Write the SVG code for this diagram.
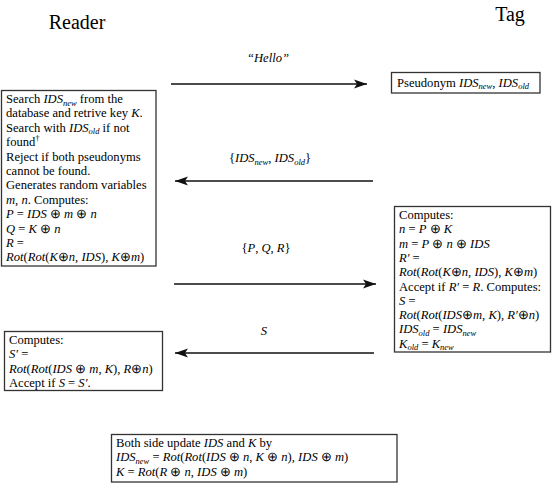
<svg xmlns="http://www.w3.org/2000/svg" width="553" height="487" viewBox="0 0 553 487" font-family="Liberation Serif" font-size="12.6">
<style>
.h{font-size:20px}
.i{font-style:italic}
.s{font-size:8.5px;font-style:italic}
.box{fill:#fff;stroke:#333;stroke-width:1.3}
.arr{stroke:#111;stroke-width:1.6;fill:none;marker-end:url(#ah)}
</style>
<defs>
<marker id="ah" markerWidth="14" markerHeight="10" refX="13" refY="5" orient="auto" markerUnits="userSpaceOnUse">
<path d="M0,0.5 L13,5 L0,9.5 L3,5 Z" fill="#111"/>
</marker>
</defs>
<rect width="553" height="487" fill="#fff"/>
<g id="reader-title"><text font-family="Liberation Serif" class="h" x="77" y="29" text-anchor="middle">Reader</text></g>
<g id="tag-title"><text font-family="Liberation Serif" class="h" x="510" y="21" text-anchor="middle">Tag</text></g>

<g id="connectors">
<line class="arr" x1="171" y1="84" x2="367" y2="84"/>
<line class="arr" x1="373" y1="181" x2="175" y2="181"/>
<line class="arr" x1="174" y1="284" x2="376" y2="284"/>
<line class="arr" x1="374" y1="353" x2="175" y2="353"/>
<text font-family="Liberation Serif" x="268" y="62" text-anchor="middle" class="i">“Hello”</text>
<text font-family="Liberation Serif" x="270" y="162" text-anchor="middle">{<tspan class="i">IDS</tspan><tspan class="s" dy="2.5">new</tspan><tspan dy="-2.5">, </tspan><tspan class="i">IDS</tspan><tspan class="s" dy="2.5">old</tspan><tspan dy="-2.5">}</tspan></text>
<text font-family="Liberation Serif" x="266" y="252" text-anchor="middle">{<tspan class="i">P</tspan>, <tspan class="i">Q</tspan>, <tspan class="i">R</tspan>}</text>
<text font-family="Liberation Serif" x="264" y="335" text-anchor="middle" class="i">S</text>
</g>

<g id="tag-pseudonym">
<rect class="box" x="391.5" y="72.5" width="148.5" height="20.5"/>
<text font-family="Liberation Serif" x="397" y="86.5">Pseudonym <tspan class="i">IDS</tspan><tspan class="s" dy="2.5">new</tspan><tspan dy="-2.5">, </tspan><tspan class="i">IDS</tspan><tspan class="s" dy="2.5">old</tspan></text>
</g>

<g id="reader-search">
<rect class="box" x="1.5" y="90.5" width="154.5" height="175.5"/>
<text font-family="Liberation Serif" x="6" y="103">Search <tspan class="i">IDS</tspan><tspan class="s" dy="2.5">new</tspan><tspan dy="-2.5"> from the</tspan></text>
<text font-family="Liberation Serif" x="6" y="117.4">database and retrive key <tspan class="i">K</tspan>.</text>
<text font-family="Liberation Serif" x="6" y="131.8">Search with <tspan class="i">IDS</tspan><tspan class="s" dy="2.5">old</tspan><tspan dy="-2.5"> if not</tspan></text>
<text font-family="Liberation Serif" x="6" y="146.2">found<tspan font-size="8" dy="-5">†</tspan></text>
<text font-family="Liberation Serif" x="6" y="160.6">Reject if both pseudonyms</text>
<text font-family="Liberation Serif" x="6" y="175">cannot be found.</text>
<text font-family="Liberation Serif" x="6" y="189.4">Generates random variables</text>
<text font-family="Liberation Serif" x="6" y="203.8"><tspan class="i">m</tspan>, <tspan class="i">n</tspan>. Computes:</text>
<text font-family="Liberation Serif" x="6" y="218.2"><tspan class="i">P</tspan> = <tspan class="i">IDS</tspan> ⊕ <tspan class="i">m</tspan> ⊕ <tspan class="i">n</tspan></text>
<text font-family="Liberation Serif" x="6" y="232.6"><tspan class="i">Q</tspan> = <tspan class="i">K</tspan> ⊕ <tspan class="i">n</tspan></text>
<text font-family="Liberation Serif" x="6" y="247"><tspan class="i">R</tspan> =</text>
<text font-family="Liberation Serif" x="6" y="261.4"><tspan class="i">Rot</tspan>(<tspan class="i">Rot</tspan>(<tspan class="i">K</tspan>⊕<tspan class="i">n</tspan>, <tspan class="i">IDS</tspan>), <tspan class="i">K</tspan>⊕<tspan class="i">m</tspan>)</text>
</g>

<g id="tag-compute">
<rect class="box" x="394.5" y="206.5" width="156" height="145.5"/>
<text font-family="Liberation Serif" x="399" y="219">Computes:</text>
<text font-family="Liberation Serif" x="399" y="233.3"><tspan class="i">n</tspan> = <tspan class="i">P</tspan> ⊕ <tspan class="i">K</tspan></text>
<text font-family="Liberation Serif" x="399" y="247.6"><tspan class="i">m</tspan> = <tspan class="i">P</tspan> ⊕ <tspan class="i">n</tspan> ⊕ <tspan class="i">IDS</tspan></text>
<text font-family="Liberation Serif" x="399" y="261.9"><tspan class="i">R′</tspan> =</text>
<text font-family="Liberation Serif" x="399" y="276.2"><tspan class="i">Rot</tspan>(<tspan class="i">Rot</tspan>(<tspan class="i">K</tspan>⊕<tspan class="i">n</tspan>, <tspan class="i">IDS</tspan>), <tspan class="i">K</tspan>⊕<tspan class="i">m</tspan>)</text>
<text font-family="Liberation Serif" x="399" y="290.5">Accept if <tspan class="i">R′</tspan> = <tspan class="i">R</tspan>. Computes:</text>
<text font-family="Liberation Serif" x="399" y="304.8"><tspan class="i">S</tspan> =</text>
<text font-family="Liberation Serif" x="399" y="319.1"><tspan class="i">Rot</tspan>(<tspan class="i">Rot</tspan>(<tspan class="i">IDS</tspan>⊕<tspan class="i">m</tspan>, <tspan class="i">K</tspan>), <tspan class="i">R′</tspan>⊕<tspan class="i">n</tspan>)</text>
<text font-family="Liberation Serif" x="399" y="333.4"><tspan class="i">IDS</tspan><tspan class="s" dy="2.5">old</tspan><tspan dy="-2.5"> = </tspan><tspan class="i">IDS</tspan><tspan class="s" dy="2.5">new</tspan></text>
<text font-family="Liberation Serif" x="399" y="347.7"><tspan class="i">K</tspan><tspan class="s" dy="2.5">old</tspan><tspan dy="-2.5"> = </tspan><tspan class="i">K</tspan><tspan class="s" dy="2.5">new</tspan></text>
</g>

<g id="reader-verify">
<rect class="box" x="4.5" y="331.5" width="158" height="59"/>
<text font-family="Liberation Serif" x="9" y="344">Computes:</text>
<text font-family="Liberation Serif" x="9" y="358.4"><tspan class="i">S′</tspan> =</text>
<text font-family="Liberation Serif" x="9" y="372.8"><tspan class="i">Rot</tspan>(<tspan class="i">Rot</tspan>(<tspan class="i">IDS</tspan> ⊕ <tspan class="i">m</tspan>, <tspan class="i">K</tspan>), <tspan class="i">R</tspan>⊕<tspan class="i">n</tspan>)</text>
<text font-family="Liberation Serif" x="9" y="387.2">Accept if <tspan class="i">S</tspan> = <tspan class="i">S′</tspan>.</text>
</g>

<g id="update">
<rect class="box" x="111.5" y="434.5" width="285.5" height="47.5"/>
<text font-family="Liberation Serif" x="116" y="447">Both side update <tspan class="i">IDS</tspan> and <tspan class="i">K</tspan> by</text>
<text font-family="Liberation Serif" x="116" y="461.4"><tspan class="i">IDS</tspan><tspan class="s" dy="2.5">new</tspan><tspan dy="-2.5"> = </tspan><tspan class="i">Rot</tspan>(<tspan class="i">Rot</tspan>(<tspan class="i">IDS</tspan> ⊕ <tspan class="i">n</tspan>, <tspan class="i">K</tspan> ⊕ <tspan class="i">n</tspan>), <tspan class="i">IDS</tspan> ⊕ <tspan class="i">m</tspan>)</text>
<text font-family="Liberation Serif" x="116" y="475.8"><tspan class="i">K</tspan> = <tspan class="i">Rot</tspan>(<tspan class="i">R</tspan> ⊕ <tspan class="i">n</tspan>, <tspan class="i">IDS</tspan> ⊕ <tspan class="i">m</tspan>)</text>
</g>
</svg>
